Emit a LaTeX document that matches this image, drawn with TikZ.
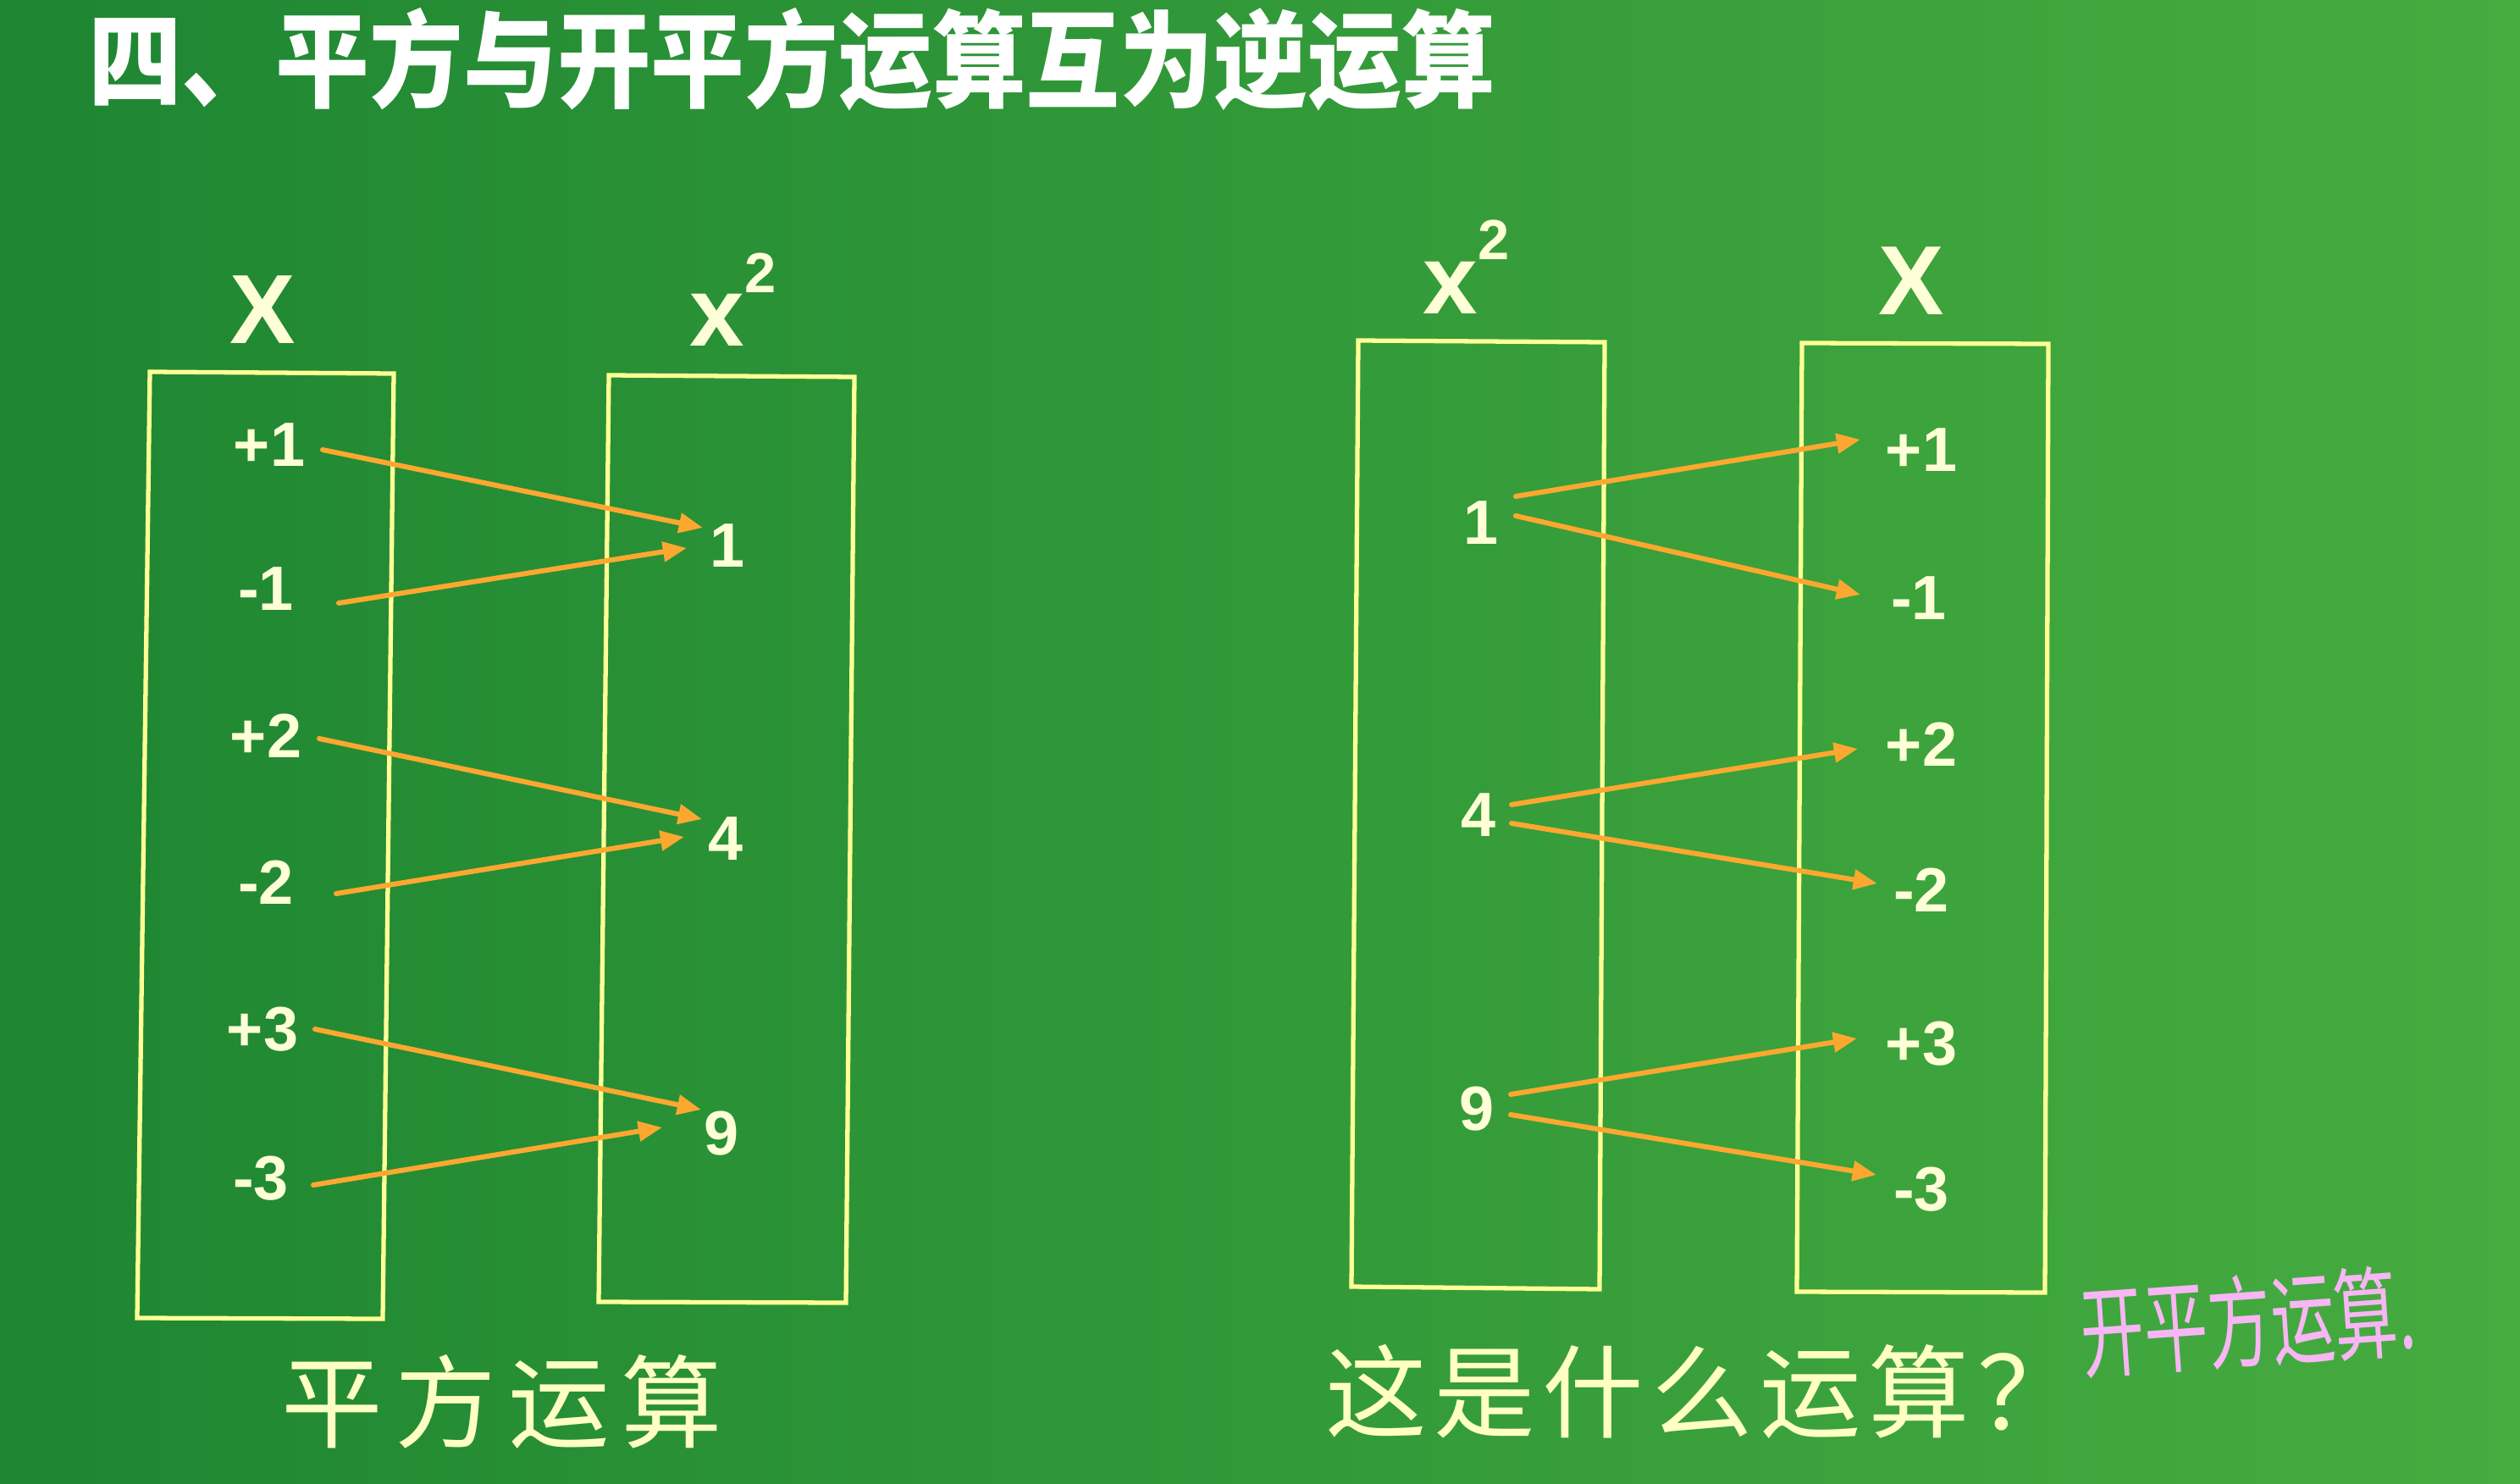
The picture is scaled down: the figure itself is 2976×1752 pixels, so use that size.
\documentclass[tikz,border=0pt]{standalone}
\usepackage{fontspec}
\setmainfont{Liberation Sans}
\newfontfamily\cjk{Noto Sans CJK SC}
\usetikzlibrary{arrows.meta}
\definecolor{bgL}{RGB}{30,134,50}
\definecolor{bgM}{RGB}{14,176,34}
\definecolor{bgR}{RGB}{70,172,64}
\definecolor{boxyellow}{RGB}{255,255,150}
\definecolor{arrorange}{RGB}{252,168,48}
\definecolor{numcol}{RGB}{255,255,215}
\definecolor{capcol}{RGB}{255,255,195}
\definecolor{pinkhand}{RGB}{248,182,244}
\begin{document}
\begin{tikzpicture}[x=0.01cm,y=-0.01cm,
  num/.style={font=\bfseries\fontsize{21pt}{21pt}\selectfont, text=numcol, inner sep=0pt},
  head/.style={font=\bfseries\fontsize{33pt}{33pt}\selectfont, text=numcol, inner sep=0pt, anchor=base},
  titlestyle/.style={font=\cjk\bfseries\fontsize{31.5pt}{31.5pt}\selectfont, text=white, inner sep=0pt},
  capstyle/.style={font=\cjk\fontsize{34pt}{34pt}\selectfont, text=capcol, inner sep=0pt},
  hand/.style={font=\cjk\fontsize{26pt}{26pt}\selectfont, text=pinkhand, inner sep=0pt},
  frame/.style={draw=boxyellow, line width=1.5pt, line join=miter},
  arr/.style={draw=arrorange, line width=1.7pt, line cap=round, -{Triangle[length=8pt,width=6.5pt]}}
]
\useasboundingbox (0,0) rectangle (2976,1752);
\shade[left color=bgL, middle color=bgM, right color=bgR] (0,0) rectangle (2976,1752);

% title
\node[titlestyle] (title) at (935,70) {\scalebox{1}[1.12]{四、平方与开平方运算互为逆运算}};

% frames
\coordinate (l1a) at (177,439); \coordinate (l1b) at (465,441);
\coordinate (l1c) at (452,1557); \coordinate (l1d) at (162,1556);
\coordinate (l2a) at (719,443); \coordinate (l2b) at (1009,445);
\coordinate (l2c) at (999,1538); \coordinate (l2d) at (707,1537);
\coordinate (r1a) at (1604,402); \coordinate (r1b) at (1895,404);
\coordinate (r1c) at (1889,1522); \coordinate (r1d) at (1596,1519);
\coordinate (r2a) at (2128,405); \coordinate (r2b) at (2419,406);
\coordinate (r2c) at (2415,1526); \coordinate (r2d) at (2122,1525);
\draw[frame] (l1a) -- (l1b) -- (l1c) -- (l1d) -- cycle;
\draw[frame] (l2a) -- (l2b) -- (l2c) -- (l2d) -- cycle;
\draw[frame] (r1a) -- (r1b) -- (r1c) -- (r1d) -- cycle;
\draw[frame] (r2a) -- (r2b) -- (r2c) -- (r2d) -- cycle;

% headers
\node[head] (hx1) at (310,406) {X};
\node[head, anchor=base west] (hx2) at (814,409) {x\raisebox{18pt}{\fontsize{19pt}{19pt}\selectfont 2}};
\node[head, anchor=base west] (hx3) at (1680,370) {x\raisebox{18pt}{\fontsize{19pt}{19pt}\selectfont 2}};
\node[head] (hx4) at (2257,372) {X};

% left diagram numbers
\node[num] (Lp1) at (318,525) {+1};
\node[num] (Lm1) at (314,695) {-1};
\node[num] (Lp2) at (314,869) {+2};
\node[num] (Lm2) at (314,1042) {-2};
\node[num] (Lp3) at (310,1215) {+3};
\node[num] (Lm3) at (308,1391) {-3};
\node[num] (M1) at (859,644) {1};
\node[num] (M4) at (857,990) {4};
\node[num] (M9) at (852,1338) {9};

% right diagram numbers
\node[num] (R1) at (1749,617) {1};
\node[num] (R4) at (1746,962) {4};
\node[num] (R9) at (1744,1309) {9};
\node[num] (Sp1) at (2269,531) {+1};
\node[num] (Sm1) at (2266,706) {-1};
\node[num] (Sp2) at (2269,879) {+2};
\node[num] (Sm2) at (2269,1051) {-2};
\node[num] (Sp3) at (2269,1232) {+3};
\node[num] (Sm3) at (2269,1404) {-3};

% left arrows
\draw[arr] ([shift={(63,6)}]Lp1.center) -- ([shift={(-29,-21)}]M1.center);
\draw[arr] ([shift={(86,17)}]Lm1.center) -- ([shift={(-48,3)}]M1.center);
\draw[arr] ([shift={(63,3)}]Lp2.center) -- ([shift={(-28,-23)}]M4.center);
\draw[arr] ([shift={(83,13)}]Lm2.center) -- ([shift={(-49,-2)}]M4.center);
\draw[arr] ([shift={(62,0)}]Lp3.center) -- ([shift={(-24,-28)}]M9.center);
\draw[arr] ([shift={(62,8)}]Lm3.center) -- ([shift={(-70,-7)}]M9.center);

% right arrows
\draw[arr] ([shift={(41,-31)}]R1.center) -- ([shift={(-72,-12)}]Sp1.center);
\draw[arr] ([shift={(41,-8)}]R1.center) -- ([shift={(-69,-4)}]Sm1.center);
\draw[arr] ([shift={(39,-12)}]R4.center) -- ([shift={(-75,5)}]Sp2.center);
\draw[arr] ([shift={(39,10)}]R4.center) -- ([shift={(-52,-8)}]Sm2.center);
\draw[arr] ([shift={(40,-17)}]R9.center) -- ([shift={(-76,-6)}]Sp3.center);
\draw[arr] ([shift={(40,7)}]R9.center) -- ([shift={(-53,-17)}]Sm3.center);

% captions
\node[capstyle] (cap1) at (593,1655) {平\hspace{4pt}方\hspace{4pt}运\hspace{4pt}算};
\node[capstyle] (cap2) at (2010,1643) {这\hspace{2.5pt}是\hspace{2.5pt}什\hspace{2.5pt}么\hspace{2.5pt}运\hspace{2.5pt}算\hspace{2.5pt}？};
\node[hand, rotate=4] (ans) at (2655,1560) {\scalebox{0.82}[1.3]{开平方运算.}};
\end{tikzpicture}
\end{document}
